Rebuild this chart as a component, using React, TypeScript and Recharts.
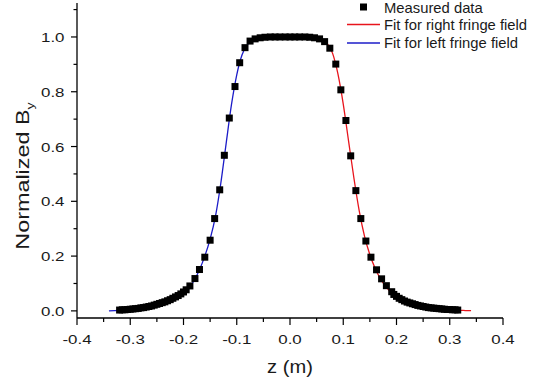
import React from 'react';
import { LineChart, Line, XAxis, YAxis } from 'recharts';

// measured field profile, z in metres (tails sampled more densely)
const measuredZ = [
  -0.32, -0.315, -0.31, -0.305, -0.3, -0.295, -0.29, -0.285, -0.28, -0.275,
  -0.27, -0.265, -0.26, -0.255, -0.25, -0.245, -0.24, -0.235, -0.23, -0.225,
  -0.22, -0.215, -0.21, -0.205, -0.2, -0.195, -0.188, -0.1785, -0.17, -0.16,
  -0.15, -0.1415, -0.132, -0.1233, -0.114, -0.1033, -0.0945, -0.0845, -0.075, -0.0655,
  -0.056, -0.047, -0.037, -0.028, -0.019, -0.009, 0, 0.009, 0.018, 0.028,
  0.037, 0.046, 0.0555, 0.065, 0.0748, 0.086, 0.0955, 0.105, 0.114, 0.1237,
  0.133, 0.1425, 0.152, 0.1625, 0.172, 0.181, 0.191, 0.195, 0.2, 0.205,
  0.21, 0.215, 0.22, 0.225, 0.23, 0.235, 0.24, 0.245, 0.25, 0.255,
  0.26, 0.265, 0.27, 0.275, 0.28, 0.285, 0.29, 0.295, 0.3, 0.305,
  0.31, 0.315,
];
const measuredB = [
  0.003, 0.004, 0.004, 0.005, 0.006, 0.007, 0.008, 0.009, 0.011, 0.012,
  0.014, 0.016, 0.018, 0.021, 0.024, 0.027, 0.03, 0.033, 0.037, 0.041,
  0.046, 0.051, 0.056, 0.062, 0.069, 0.077, 0.091, 0.118, 0.151, 0.196,
  0.258, 0.337, 0.442, 0.568, 0.704, 0.819, 0.906, 0.961, 0.985, 0.993,
  0.997, 0.999, 1.0, 1.0, 1.0, 1.0, 1.0, 1.0, 1.0, 1.0,
  0.999, 0.997, 0.993, 0.983, 0.959, 0.901, 0.807, 0.695, 0.566, 0.439,
  0.337, 0.255, 0.196, 0.15, 0.117, 0.092, 0.07, 0.06, 0.053, 0.046,
  0.041, 0.036, 0.032, 0.029, 0.026, 0.023, 0.02, 0.018, 0.016, 0.014,
  0.012, 0.011, 0.01, 0.009, 0.008, 0.007, 0.006, 0.005, 0.005, 0.004,
  0.004, 0.003,
];

const leftFitZ = [
  -0.34, -0.33, -0.32, -0.31, -0.3, -0.29, -0.28, -0.27, -0.26, -0.25,
  -0.24, -0.23, -0.22, -0.21, -0.2, -0.19, -0.18, -0.17, -0.16, -0.15,
  -0.14, -0.13, -0.12, -0.11, -0.1, -0.09, -0.08, -0.07, -0.06, -0.05, -0.04,
];
const leftFitB = [
  0.0, 0.001, 0.002, 0.003, 0.004, 0.006, 0.008, 0.01, 0.013, 0.016,
  0.021, 0.027, 0.036, 0.048, 0.063, 0.083, 0.111, 0.15, 0.2, 0.262,
  0.345, 0.465, 0.61, 0.752, 0.862, 0.935, 0.972, 0.988, 0.995, 0.998, 1.0,
];

const rightFitZ = [
  0.04, 0.05, 0.06, 0.07, 0.08, 0.09, 0.1, 0.11, 0.12, 0.13,
  0.14, 0.15, 0.16, 0.17, 0.18, 0.19, 0.2, 0.21, 0.22, 0.23,
  0.24, 0.25, 0.26, 0.27, 0.28, 0.29, 0.3, 0.31, 0.32, 0.33, 0.34,
];
const rightFitB = [
  1.0, 0.997, 0.991, 0.976, 0.94, 0.865, 0.755, 0.62, 0.485, 0.365,
  0.272, 0.205, 0.155, 0.117, 0.089, 0.067, 0.051, 0.038, 0.028, 0.021,
  0.016, 0.012, 0.008, 0.006, 0.005, 0.004, 0.003, 0.002, 0.002, 0.001, 0.001,
];

const xTicks = [-0.4, -0.35, -0.3, -0.25, -0.2, -0.15, -0.1, -0.05, 0, 0.05, 0.1, 0.15, 0.2, 0.25, 0.3, 0.35, 0.4];
const yTicks = [0, 0.1, 0.2, 0.3, 0.4, 0.5, 0.6, 0.7, 0.8, 0.9, 1.0, 1.1];

const measured = measuredZ.map((z, i) => ({ z, b: measuredB[i] }));
const leftFit = leftFitZ.map((z, i) => ({ z, b: leftFitB[i] }));
const rightFit = rightFitZ.map((z, i) => ({ z, b: rightFitB[i] }));

const FONT = '"Liberation Sans", Arial, sans-serif';
const RED = '#e8141c';
const BLUE = '#1c1cc8';

const isMajor = (v: number) => Math.abs(v * 10 - Math.round(v * 10)) < 1e-6;

const XTick = (props: any) => {
  const { x, y, payload } = props;
  const major = isMajor(payload.value);
  return (
    <g>
      <line x1={x} y1={y} x2={x} y2={y + (major ? 7 : 4)} stroke="#000" strokeWidth={1.2} />
      {major && (
        <text
          transform={`translate(${x},${y + 26}) scale(1.27,1)`}
          textAnchor="middle"
          fontSize={13.3}
          fontFamily={FONT}
          fill="#1a1a1a"
        >
          {payload.value.toFixed(1)}
        </text>
      )}
    </g>
  );
};

const YTick = (props: any) => {
  const { x, y, payload } = props;
  const major = isMajor(payload.value) && Math.round(payload.value * 10) % 2 === 0;
  return (
    <g>
      <line x1={x} y1={y} x2={x - (major ? 6 : 3.5)} y2={y} stroke="#000" strokeWidth={1.2} />
      {major && (
        <text
          transform={`translate(${x - 12.5},${y + 5}) scale(1.27,1)`}
          textAnchor="end"
          fontSize={13.3}
          fontFamily={FONT}
          fill="#1a1a1a"
        >
          {payload.value.toFixed(1)}
        </text>
      )}
    </g>
  );
};

const Square = (props: any) => {
  const { cx, cy, index } = props;
  if (cx == null || cy == null) return <g key={index} />;
  return <rect key={index} x={cx - 3.5} y={cy - 3.5} width={7} height={7} fill="#000" />;
};

const XTitle = () => (
  <text transform="translate(290,373) scale(1.15,1)" textAnchor="middle" fontSize={17.5} fontFamily={FONT} fill="#1a1a1a">
    z (m)
  </text>
);

const YTitle = () => (
  <text transform="translate(28.5,176) rotate(-90) scale(1.3,1)" textAnchor="middle" fontSize={18} fontFamily={FONT} fill="#1a1a1a">
    Normalized B
    <tspan fontSize={11} dy={5}>y</tspan>
  </text>
);

export default function App() {
  return (
    <div style={{ position: 'absolute', left: 0, top: 0, width: 551, height: 385, background: '#fff' }}>
      <LineChart width={551} height={385} margin={{ top: 3, right: 48, bottom: 7, left: 17 }}>
        <XAxis
          type="number"
          dataKey="z"
          domain={[-0.4, 0.4]}
          ticks={xTicks}
          interval={0}
          allowDataOverflow
          height={60}
          tickSize={0}
          tickMargin={0}
          tickLine={false}
          tick={<XTick />}
          axisLine={{ stroke: '#000', strokeWidth: 1.3 }}
          label={<XTitle />}
        />
        <YAxis
          type="number"
          dataKey="b"
          domain={[-0.026, 1.124]}
          ticks={yTicks}
          interval={0}
          allowDataOverflow
          width={60}
          tickSize={0}
          tickMargin={0}
          tickLine={false}
          tick={<YTick />}
          axisLine={{ stroke: '#000', strokeWidth: 1.3 }}
          label={<YTitle />}
        />
        <Line
          data={measured}
          dataKey="b"
          stroke="none"
          dot={<Square />}
          activeDot={false}
          isAnimationActive={false}
        />
        <Line
          data={leftFit}
          dataKey="b"
          type="monotone"
          stroke={BLUE}
          strokeWidth={1.3}
          dot={false}
          isAnimationActive={false}
        />
        <Line
          data={rightFit}
          dataKey="b"
          type="monotone"
          stroke={RED}
          strokeWidth={1.3}
          dot={false}
          isAnimationActive={false}
        />
      </LineChart>
      <svg
        width={551}
        height={385}
        style={{ position: 'absolute', left: 0, top: 0, pointerEvents: 'none' }}
      >
        <rect x={360} y={3.5} width={7} height={7} fill="#000" />
        <text x={384} y={12.5} fontSize={14.8} fontFamily={FONT} fill="#1a1a1a">Measured data</text>
        <line x1={347} y1={24.5} x2={380} y2={24.5} stroke={RED} strokeWidth={1.3} />
        <text x={384} y={29.5} fontSize={14.8} fontFamily={FONT} fill="#1a1a1a">Fit for right fringe field</text>
        <line x1={347} y1={43} x2={380} y2={43} stroke={BLUE} strokeWidth={1.3} />
        <text x={384} y={48} fontSize={14.8} fontFamily={FONT} fill="#1a1a1a">Fit for left fringe field</text>
      </svg>
    </div>
  );
}
